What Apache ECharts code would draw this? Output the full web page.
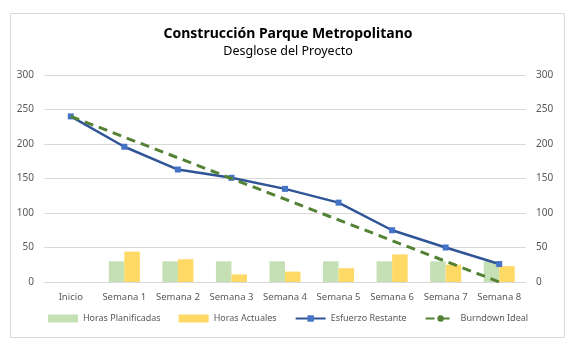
<!DOCTYPE html>
<html><head><meta charset="utf-8">
<script src="https://cdn.jsdelivr.net/npm/echarts@6/dist/echarts.min.js"></script>
<style>html,body{margin:0;padding:0;background:#fff}#c{width:576px;height:346px}</style>
</head><body><div id="c"></div>
<script>
var categories = ["Inicio","Semana 1","Semana 2","Semana 3","Semana 4","Semana 5","Semana 6","Semana 7","Semana 8"];
var horasPlanificadas = [null,30,30,30,30,30,30,30,30];
var horasActuales = [null,44,33,11,15,20,40,25,23];
var esfuerzoRestante = [240,196,163,151,135,115,75,50,26];
var burndownIdeal = [240,210,180,150,120,90,60,30,0];
var yTicks = {min:0,max:300,interval:50};

var font = "Noto Sans";
var chart = echarts.init(document.getElementById('c'), null, {renderer:'canvas'});
chart.setOption({
  animation:false,
  textStyle:{fontFamily:font},
  graphic:[{type:'rect',shape:{x:10.5,y:13.5,width:554,height:324},style:{fill:null,stroke:'#d9d9d9',lineWidth:1},silent:true}],
  title:{text:'Construcción Parque Metropolitano',subtext:'Desglose del Proyecto',left:'center',top:22,itemGap:4,
    textStyle:{fontFamily:font,fontSize:14,fontWeight:'bold',color:'#000'},
    subtextStyle:{fontFamily:font,fontSize:12.5,color:'#000'}},
  grid:{left:44,right:50,top:75,bottom:64},
  legend:{bottom:18,left:'center',itemGap:18,itemWidth:30,itemHeight:8,
    textStyle:{fontFamily:font,fontSize:9,color:'#595959'},
    data:[{name:'Horas Planificadas',icon:'rect'},{name:'Horas Actuales',icon:'rect'},{name:'Esfuerzo Restante'},{name:'Burndown Ideal'}]},
  xAxis:{type:'category',data:categories,axisTick:{show:false},
    axisLine:{lineStyle:{color:'#d9d9d9'}},
    axisLabel:{color:'#595959',fontSize:9.5,fontFamily:font,margin:10,interval:0}},
  yAxis:[
    {type:'value',min:yTicks.min,max:yTicks.max,interval:yTicks.interval,
     splitLine:{lineStyle:{color:'#d9d9d9'}},axisLine:{show:false},axisTick:{show:false},
     axisLabel:{color:'#595959',fontSize:10,fontFamily:font,margin:10}},
    {type:'value',min:yTicks.min,max:yTicks.max,interval:yTicks.interval,position:'right',
     splitLine:{show:false},axisLine:{show:false},axisTick:{show:false},
     axisLabel:{color:'#595959',fontSize:10,fontFamily:font,margin:10}}
  ],
  series:[
    {name:'Horas Planificadas',type:'bar',data:horasPlanificadas,barGap:'0%',barCategoryGap:'42%',itemStyle:{color:'#c5e0b4'}},
    {name:'Horas Actuales',type:'bar',data:horasActuales,itemStyle:{color:'#ffd966'}},
    {name:'Esfuerzo Restante',type:'line',data:esfuerzoRestante,symbol:'rect',symbolSize:6,
     lineStyle:{color:'#2f5597',width:2.5},itemStyle:{color:'#4472c4'},z:3},
    {name:'Burndown Ideal',type:'line',yAxisIndex:1,data:burndownIdeal,symbol:'none',
     lineStyle:{color:'#548235',width:3,type:[9,6]},itemStyle:{color:'#548235'},z:4}
  ]
});
</script></body></html>
